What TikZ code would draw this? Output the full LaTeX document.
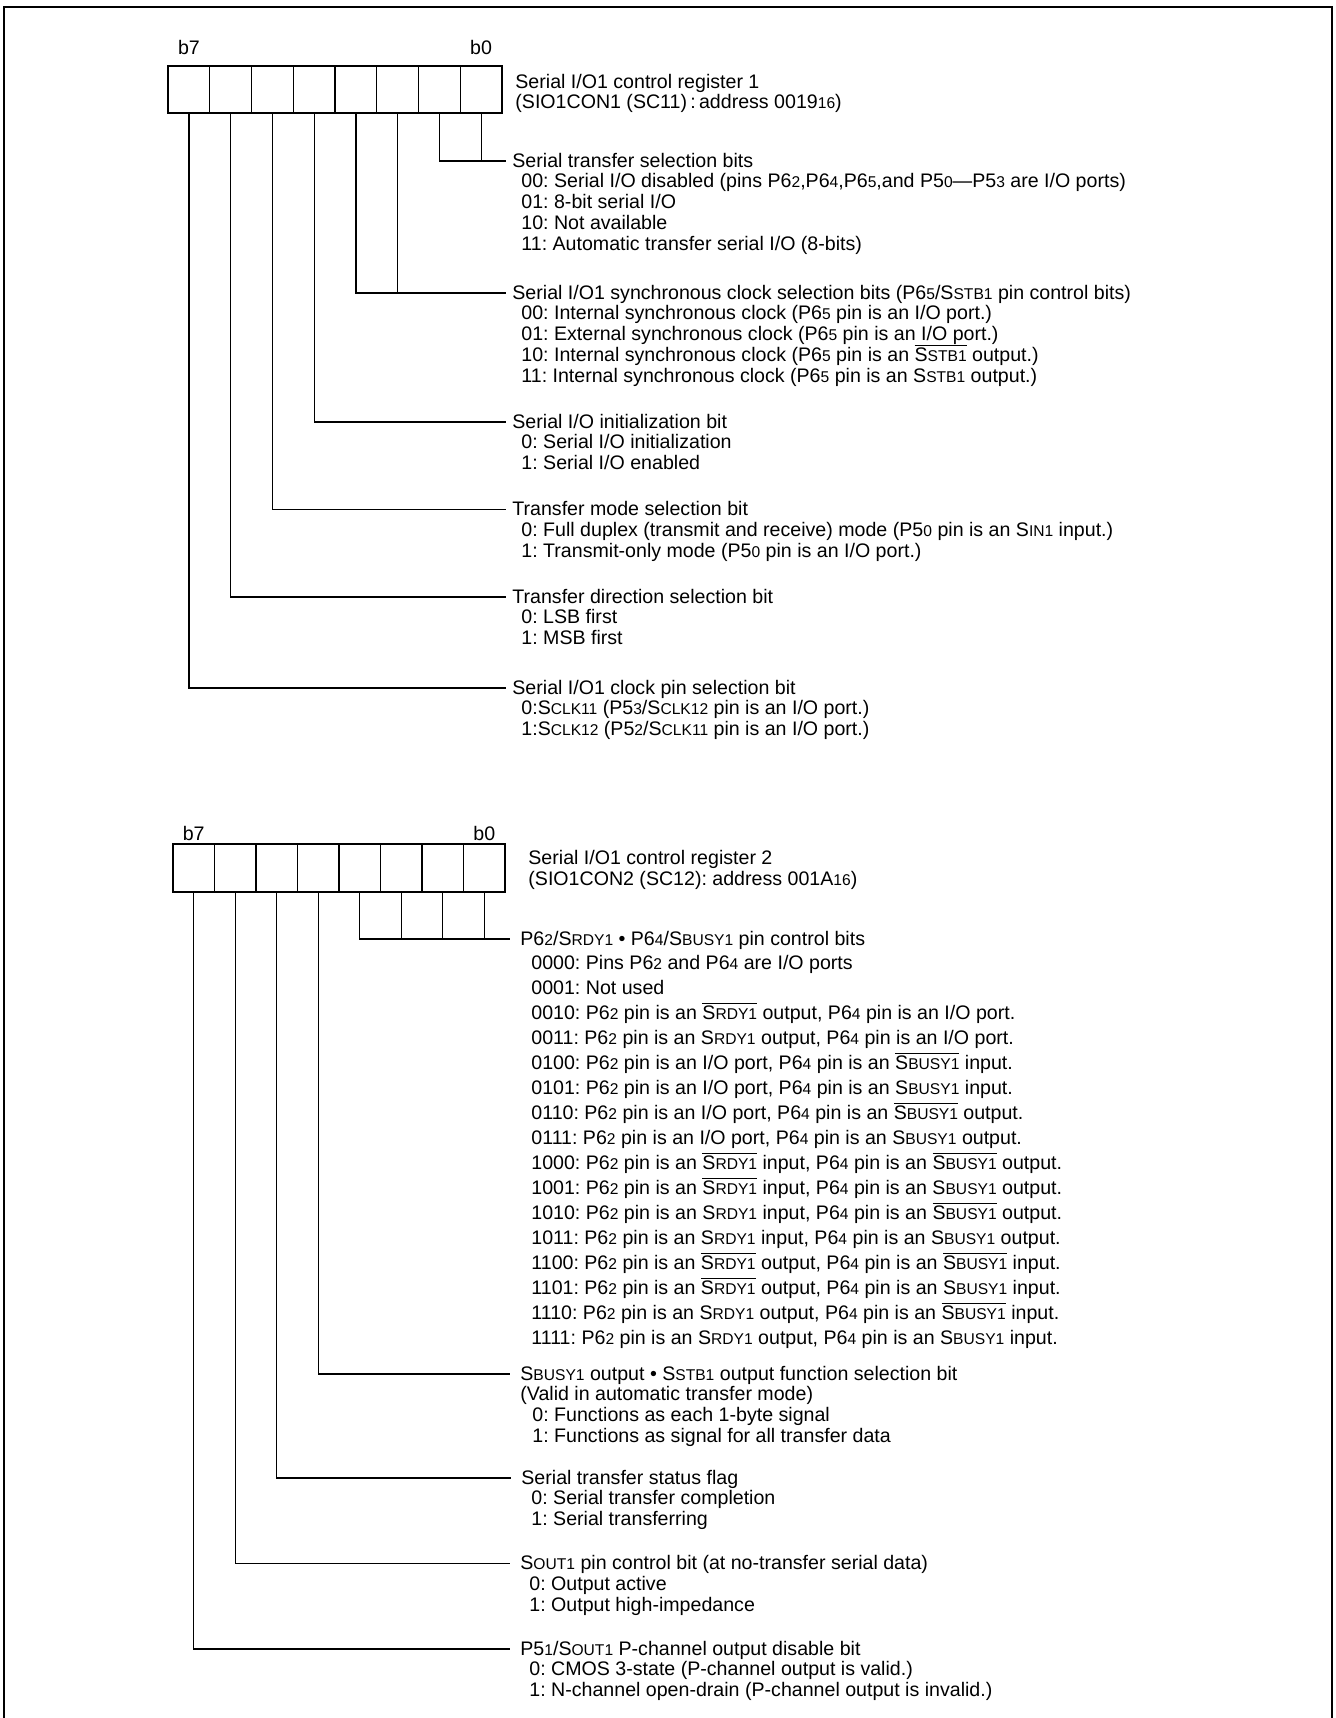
\documentclass[tikz,border=0pt]{standalone}
\usepackage{fontspec}
\setmainfont{Liberation Sans}
\usetikzlibrary{positioning}
\frenchspacing

\newcommand{\regfont}{\fontsize{9.8}{10.4}\selectfont}
\newcommand{\regfontw}{\fontsize{9.8}{12.5}\selectfont}
\newcommand{\sml}[1]{{\fontsize{7.8}{8}\selectfont #1}}
\newcommand{\ovl}[1]{\leavevmode\setbox0=\hbox{#1}\rlap{\smash{\rule[7.6pt]{\wd0}{0.45pt}}}\box0\relax}
\newcommand{\srdy}{S\sml{RDY1}}
\newcommand{\sbusy}{S\sml{BUSY1}}

\begin{document}
\begin{tikzpicture}[x=0.5pt, y=-0.5pt,
    bitcell/.style={draw, line width=0.6pt, minimum width=20.85pt, minimum height=23.5pt, inner sep=0pt},
    bitlbl/.style={anchor=base, inner sep=0pt, font=\regfont},
    regname/.style={anchor=west, align=left, inner sep=0pt, font=\regfont},
    fld/.style={anchor=west, inner sep=0pt, text height=6pt, text depth=0pt, font=\regfont},
    opts/.style={anchor=north west, align=left, inner sep=0pt, font=\regfont, execute at begin node={\rule{0pt}{7.5pt}}},
    lead/.style={line width=0.6pt}]
\useasboundingbox (0,0) rectangle (1335,1718);
\draw [line width=1.3pt] (4,1718) -- (4,7) -- (1332,7) -- (1332,1718);

% control register 1
\foreach \i in {0,...,7}
    \node [bitcell] (ra\i) at ({188.9+41.75*(7-\i)}, 89.5) {};
\node [bitlbl] (ra-hi) at (188.9, 55) {b7};
\node [bitlbl] (ra-lo) at (481.1, 55) {b0};
\node [regname] (ra-name) at (515, 93.5) {Serial I/O1 control register 1\\(SIO1CON1 (SC11)\,:\,address 0019\sml{16})};

\node [fld] (sel) at (512, 161) {Serial transfer selection bits};
\node [opts, at={(sel.south west)}, xshift=4.5pt, yshift=-2.9pt] (sel-opt) {00: Serial I/O disabled (pins P6\sml{2},P6\sml{4},P6\sml{5},and P5\sml{0}—P5\sml{3} are I/O ports)\\01: 8-bit serial I/O\\10: Not available\\11: Automatic transfer serial I/O (8-bits)};

\node [fld] (clk) at (512, 293) {Serial I/O1 synchronous clock selection bits (P6\sml{5}/S\sml{STB1} pin control bits)};
\node [opts, at={(clk.south west)}, xshift=4.5pt, yshift=-2.9pt] (clk-opt) {00: Internal synchronous clock (P6\sml{5} pin is an I/O port.)\\01: External synchronous clock (P6\sml{5} pin is an I/O port.)\\10: Internal synchronous clock (P6\sml{5} pin is an \ovl{S\sml{STB1}} output.)\\11: Internal synchronous clock (P6\sml{5} pin is an S\sml{STB1} output.)};

\node [fld] (ini) at (512, 422) {Serial I/O initialization bit};
\node [opts, at={(ini.south west)}, xshift=4.5pt, yshift=-2.9pt] (ini-opt) {0: Serial I/O initialization\\1: Serial I/O enabled};

\node [fld] (mode) at (512, 509.5) {Transfer mode selection bit};
\node [opts, at={(mode.south west)}, xshift=4.5pt, yshift=-2.9pt] (mode-opt) {0: Full duplex (transmit and receive) mode (P5\sml{0} pin is an S\sml{IN1} input.)\\1: Transmit-only mode (P5\sml{0} pin is an I/O port.)};

\node [fld] (dir) at (512, 597) {Transfer direction selection bit};
\node [opts, at={(dir.south west)}, xshift=4.5pt, yshift=-2.9pt] (dir-opt) {0: LSB first\\1: MSB first};

\node [fld] (pin) at (512, 688) {Serial I/O1 clock pin selection bit};
\node [opts, at={(pin.south west)}, xshift=4.5pt, yshift=-2.9pt] (pin-opt) {0:S\sml{CLK11} (P5\sml{3}/S\sml{CLK12} pin is an I/O port.)\\1:S\sml{CLK12} (P5\sml{2}/S\sml{CLK11} pin is an I/O port.)};

\draw [lead] (ra1.south) |- ([xshift=-3pt]sel.west);
\draw [lead] (ra0.south) -- (ra0.south |- sel.west);
\draw [lead] (ra3.south) |- ([xshift=-3pt]clk.west);
\draw [lead] (ra2.south) -- (ra2.south |- clk.west);
\draw [lead] (ra4.south) |- ([xshift=-3pt]ini.west);
\draw [lead] (ra5.south) |- ([xshift=-3pt]mode.west);
\draw [lead] (ra6.south) |- ([xshift=-3pt]dir.west);
\draw [lead] (ra7.south) |- ([xshift=-3pt]pin.west);

% control register 2
\foreach \i in {0,...,7}
    \node [bitcell, minimum width=20.75pt, minimum height=24pt] (rb\i) at ({193.75+41.5*(7-\i)}, 868) {};
\node [bitlbl] (rb-hi) at (193.75, 840) {b7};
\node [bitlbl] (rb-lo) at (484.25, 840) {b0};
\node [regname] (rb-name) at (528, 870) {Serial I/O1 control register 2\\(SIO1CON2 (SC12): address 001A\sml{16})};

\node [fld] (hs) at (520, 939) {P6\sml{2}/\srdy{} • P6\sml{4}/\sbusy{} pin control bits};
\node [opts, font=\regfontw, at={(hs.south west)}, xshift=5.5pt, yshift=-4.5pt] (hs-opt) {0000: Pins P6\sml{2} and P6\sml{4} are I/O ports\\
0001: Not used\\
0010: P6\sml{2} pin is an \ovl{\srdy} output, P6\sml{4} pin is an I/O port.\\
0011: P6\sml{2} pin is an \srdy{} output, P6\sml{4} pin is an I/O port.\\
0100: P6\sml{2} pin is an I/O port, P6\sml{4} pin is an \ovl{\sbusy} input.\\
0101: P6\sml{2} pin is an I/O port, P6\sml{4} pin is an \sbusy{} input.\\
0110: P6\sml{2} pin is an I/O port, P6\sml{4} pin is an \ovl{\sbusy} output.\\
0111: P6\sml{2} pin is an I/O port, P6\sml{4} pin is an \sbusy{} output.\\
1000: P6\sml{2} pin is an \ovl{\srdy} input, P6\sml{4} pin is an \ovl{\sbusy} output.\\
1001: P6\sml{2} pin is an \ovl{\srdy} input, P6\sml{4} pin is an \sbusy{} output.\\
1010: P6\sml{2} pin is an \srdy{} input, P6\sml{4} pin is an \ovl{\sbusy} output.\\
1011: P6\sml{2} pin is an \srdy{} input, P6\sml{4} pin is an \sbusy{} output.\\
1100: P6\sml{2} pin is an \ovl{\srdy} output, P6\sml{4} pin is an \ovl{\sbusy} input.\\
1101: P6\sml{2} pin is an \ovl{\srdy} output, P6\sml{4} pin is an \sbusy{} input.\\
1110: P6\sml{2} pin is an \srdy{} output, P6\sml{4} pin is an \ovl{\sbusy} input.\\
1111: P6\sml{2} pin is an \srdy{} output, P6\sml{4} pin is an \sbusy{} input.};

\node [fld] (fn) at (520, 1374) {\sbusy{} output • S\sml{STB1} output function selection bit};
\node [opts, at={(fn.south west)}, yshift=-2.9pt] (fn-opt) {(Valid in automatic transfer mode)\\\hspace*{6pt}0: Functions as each 1-byte signal\\\hspace*{6pt}1: Functions as signal for all transfer data};

\node [fld] (stat) at (521, 1478) {Serial transfer status flag};
\node [opts, at={(stat.south west)}, xshift=5pt, yshift=-2.9pt] (stat-opt) {0: Serial transfer completion\\1: Serial transferring};

\node [fld] (sout) at (520, 1563.5) {S\sml{OUT1} pin control bit (at no-transfer serial data)};
\node [opts, at={(sout.south west)}, xshift=4.5pt, yshift=-2.9pt] (sout-opt) {0: Output active\\1: Output high-impedance};

\node [fld] (pch) at (520, 1649) {P5\sml{1}/S\sml{OUT1} P-channel output disable bit};
\node [opts, at={(pch.south west)}, xshift=4.5pt, yshift=-2.9pt] (pch-opt) {0: CMOS 3-state (P-channel output is valid.)\\1: N-channel open-drain (P-channel output is invalid.)};

\draw [lead] (rb3.south) |- ([xshift=-5pt]hs.west);
\foreach \i in {0,1,2}
    \draw [lead] (rb\i.south) -- (rb\i.south |- hs.west);
\draw [lead] (rb4.south) |- ([xshift=-5pt]fn.west);
\draw [lead] (rb5.south) |- ([xshift=-5pt]stat.west);
\draw [lead] (rb6.south) |- ([xshift=-5pt]sout.west);
\draw [lead] (rb7.south) |- ([xshift=-5pt]pch.west);
\end{tikzpicture}
\end{document}
